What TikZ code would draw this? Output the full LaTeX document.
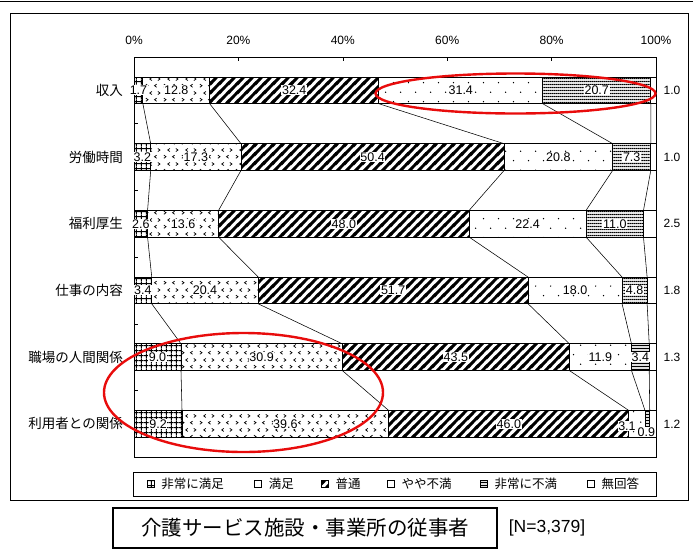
\documentclass[tikz,border=0pt]{standalone}
\usepackage{fontspec}
\newfontfamily\jpfont{Noto Sans CJK JP}
\newfontfamily\numfont{Liberation Sans}
\usetikzlibrary{patterns.meta,positioning,calc}

\definecolor{ringred}{RGB}{232,12,12}

% fills of the six answers
\pgfdeclarepattern{name=smallgrid, type=uncolored,
  bottom left={\pgfpoint{0pt}{0pt}}, top right={\pgfpoint{4.8pt}{4.8pt}},
  tile size={\pgfpoint{4.8pt}{4.8pt}},
  code={\pgfsetlinewidth{1.15pt}
    \pgfpathmoveto{\pgfpoint{2.4pt}{0pt}}\pgfpathlineto{\pgfpoint{2.4pt}{4.8pt}}
    \pgfpathmoveto{\pgfpoint{0pt}{2.4pt}}\pgfpathlineto{\pgfpoint{4.8pt}{2.4pt}}
    \pgfusepath{stroke}}}
\pgfdeclarepattern{name=chevrons, type=uncolored,
  bottom left={\pgfpoint{0pt}{0pt}}, top right={\pgfpoint{18pt}{14pt}},
  tile size={\pgfpoint{18pt}{14pt}},
  code={\pgfsetlinewidth{0.75pt}
    \pgfpathmoveto{\pgfpoint{2pt}{0.8pt}}\pgfpathlineto{\pgfpoint{4.2pt}{2.4pt}}\pgfpathlineto{\pgfpoint{2pt}{4pt}}
    \pgfpathmoveto{\pgfpoint{13.2pt}{0.8pt}}\pgfpathlineto{\pgfpoint{11pt}{2.4pt}}\pgfpathlineto{\pgfpoint{13.2pt}{4pt}}
    \pgfpathmoveto{\pgfpoint{8.2pt}{7.8pt}}\pgfpathlineto{\pgfpoint{6pt}{9.4pt}}\pgfpathlineto{\pgfpoint{8.2pt}{11pt}}
    \pgfpathmoveto{\pgfpoint{14.5pt}{7.8pt}}\pgfpathlineto{\pgfpoint{16.7pt}{9.4pt}}\pgfpathlineto{\pgfpoint{14.5pt}{11pt}}
    \pgfusepath{stroke}}}
\pgfdeclarepattern{name=bigstripes, type=uncolored,
  bottom left={\pgfpoint{0pt}{0pt}}, top right={\pgfpoint{8.8pt}{8.8pt}},
  tile size={\pgfpoint{8.8pt}{8.8pt}},
  code={\pgfsetlinewidth{3pt}
    \pgfpathmoveto{\pgfpoint{-1pt}{-1pt}}\pgfpathlineto{\pgfpoint{9.8pt}{9.8pt}}
    \pgfpathmoveto{\pgfpoint{-1pt}{7.8pt}}\pgfpathlineto{\pgfpoint{1pt}{9.8pt}}
    \pgfpathmoveto{\pgfpoint{7.8pt}{-1pt}}\pgfpathlineto{\pgfpoint{9.8pt}{1pt}}
    \pgfusepath{stroke}}}
\pgfdeclarepattern{name=sparsedots, type=uncolored,
  bottom left={\pgfpoint{0pt}{0pt}}, top right={\pgfpoint{15pt}{19.4pt}},
  tile size={\pgfpoint{15pt}{19.4pt}},
  code={\pgfpathcircle{\pgfpoint{3.75pt}{2.4pt}}{0.75pt}
    \pgfpathcircle{\pgfpoint{11.25pt}{12.1pt}}{0.75pt}
    \pgfusepath{fill}}}
\pgfdeclarepattern{name=hlines, type=uncolored,
  bottom left={\pgfpoint{0pt}{0pt}}, top right={\pgfpoint{2pt}{2.9pt}},
  tile size={\pgfpoint{2pt}{2.9pt}},
  code={\pgfsetlinewidth{1.3pt}
    \pgfpathmoveto{\pgfpoint{-0.5pt}{1.45pt}}\pgfpathlineto{\pgfpoint{2.5pt}{1.45pt}}
    \pgfusepath{stroke}}}

\begin{document}
\begin{tikzpicture}[x=1pt,y=-1pt]
  \tikzset{
    seg/.style={draw, line width=0.8pt, minimum height=26.7pt, inner sep=0pt, outer sep=0pt},
    p1/.style={pattern=smallgrid},
    p2/.style={pattern=chevrons},
    p3/.style={pattern=bigstripes},
    p4/.style={pattern=sparsedots},
    p5/.style={pattern=hlines},
    p6/.style={fill=white},
    val/.style={fill=white, inner sep=0.6pt, font=\numfont\fontsize{12.5}{13}\selectfont},
    cat/.style={anchor=east, inner sep=0pt, font=\jpfont\fontsize{13.5}{15}\selectfont},
    tick/.style={inner sep=0pt, font=\numfont\fontsize{12}{13}\selectfont},
    link/.style={line width=0.55pt},
    ring/.style={draw=ringred, line width=2.4pt},
    key/.style={draw, line width=0.9pt, minimum size=7pt, inner sep=0pt},
    keytext/.style={inner sep=0pt, font=\jpfont\fontsize{12.5}{14}\selectfont},
  }
  \useasboundingbox (0,0) rectangle (693,550);

  % frames and axes
  \draw[line width=0.8pt] (0,1) -- (693,1);
  \draw[line width=1pt] (10,13) rectangle (688,500);
  \draw[line width=0.7pt] (134,57) rectangle (656,457.2);
  \foreach \p in {20,40,60,80}
    \draw[line width=0.6pt] (134+\p*5.22,57) -- ++(0,4);
  \foreach \k in {1,...,5}
    \draw[line width=0.6pt] (134,57+66.7*\k) -- ++(4,0);
  \foreach \p in {0,20,40,60,80,100}
    \node[tick] (t\p) at (134+\p*5.22,40) {\p\%};

  % one bar per question
  \foreach \r/\name/\va/\vb/\vc/\vd/\ve/\vf in {
      1/収入/1.7/12.8/32.4/31.4/20.7/1.0,
      2/労働時間/3.2/17.3/50.4/20.8/7.3/1.0,
      3/福利厚生/2.6/13.6/48.0/22.4/11.0/2.5,
      4/仕事の内容/3.4/20.4/51.7/18.0/4.8/1.8,
      5/職場の人間関係/9.0/30.9/43.5/11.9/3.4/1.3,
      6/利用者との関係/9.2/39.6/46.0/3.1/0.9/1.2}
  {
    \pgfmathsetmacro{\y}{23.65+66.7*\r}
    \node[seg, p1, minimum width=\va*5.22pt, anchor=west] (r\r a) at (134,\y) {};
    \node[seg, p2, minimum width=\vb*5.22pt, right=0pt of r\r a] (r\r b) {};
    \node[seg, p3, minimum width=\vc*5.22pt, right=0pt of r\r b] (r\r c) {};
    \node[seg, p4, minimum width=\vd*5.22pt, right=0pt of r\r c] (r\r d) {};
    \node[seg, p5, minimum width=\ve*5.22pt, right=0pt of r\r d] (r\r e) {};
    \node[seg, p6, minimum width=\vf*5.22pt, right=0pt of r\r e] (r\r f) {};
    \node[cat] (cat\r) at (123,\y) {\name};
    \node[val] (v\r a) at (r\r a) {\va};
    \node[val] (v\r b) at (r\r b) {\vb};
    \node[val] (v\r c) at (r\r c) {\vc};
    \ifnum\r<6
      \node[val] (v\r d) at (r\r d) {\vd};
      \node[val] (v\r e) at (r\r e) {\ve};
    \else
      \node[val] (v\r d) at ([xshift=-10pt,yshift=-2pt]r\r d) {\vd};
      \node[val] (v\r e) at ([xshift=-1pt,yshift=-8pt]r\r e) {\ve};
    \fi
    \node[tick] (v\r f) at (672,\y) {\vf};
  }

  % joins between the bars
  \foreach \r [evaluate=\r as \n using int(\r+1)] in {1,...,5}
    \foreach \s in {a,b,c,d,e}
      \draw[link] (r\r\s.south east) -- (r\n\s.north east);

  % red rings
  \draw[ring] (515.5,93.5) ellipse [x radius=140, y radius=20];
  \draw[ring] (243.5,392.5) ellipse [x radius=139.5, y radius=59.5];

  % legend
  \draw[line width=0.8pt] (133,472) rectangle (656,496);
  \foreach \i/\x/\f/\t in {1/150.7/p1/非常に満足, 2/258.3/p6/満足, 3/325/p3/普通,
                           4/391/p6/やや不満, 5/484/p5/非常に不満, 6/591/p6/無回答}
  {
    \node[key, \f] (k\i) at (\x,484) {};
    \node[keytext, right=6.5pt of k\i] (kt\i) {\t};
  }

  % title
  \node[draw, line width=1.3pt, minimum width=384pt, minimum height=40pt,
        font=\jpfont\fontsize{20.5}{22}\selectfont] (title) at (305,528)
        {介護サービス施設・事業所の従事者};
  \node[inner sep=0pt, right=11pt of title, font=\numfont\fontsize{17.5}{19}\selectfont]
        (nsize) {[N=3,379]};
\end{tikzpicture}
\end{document}
